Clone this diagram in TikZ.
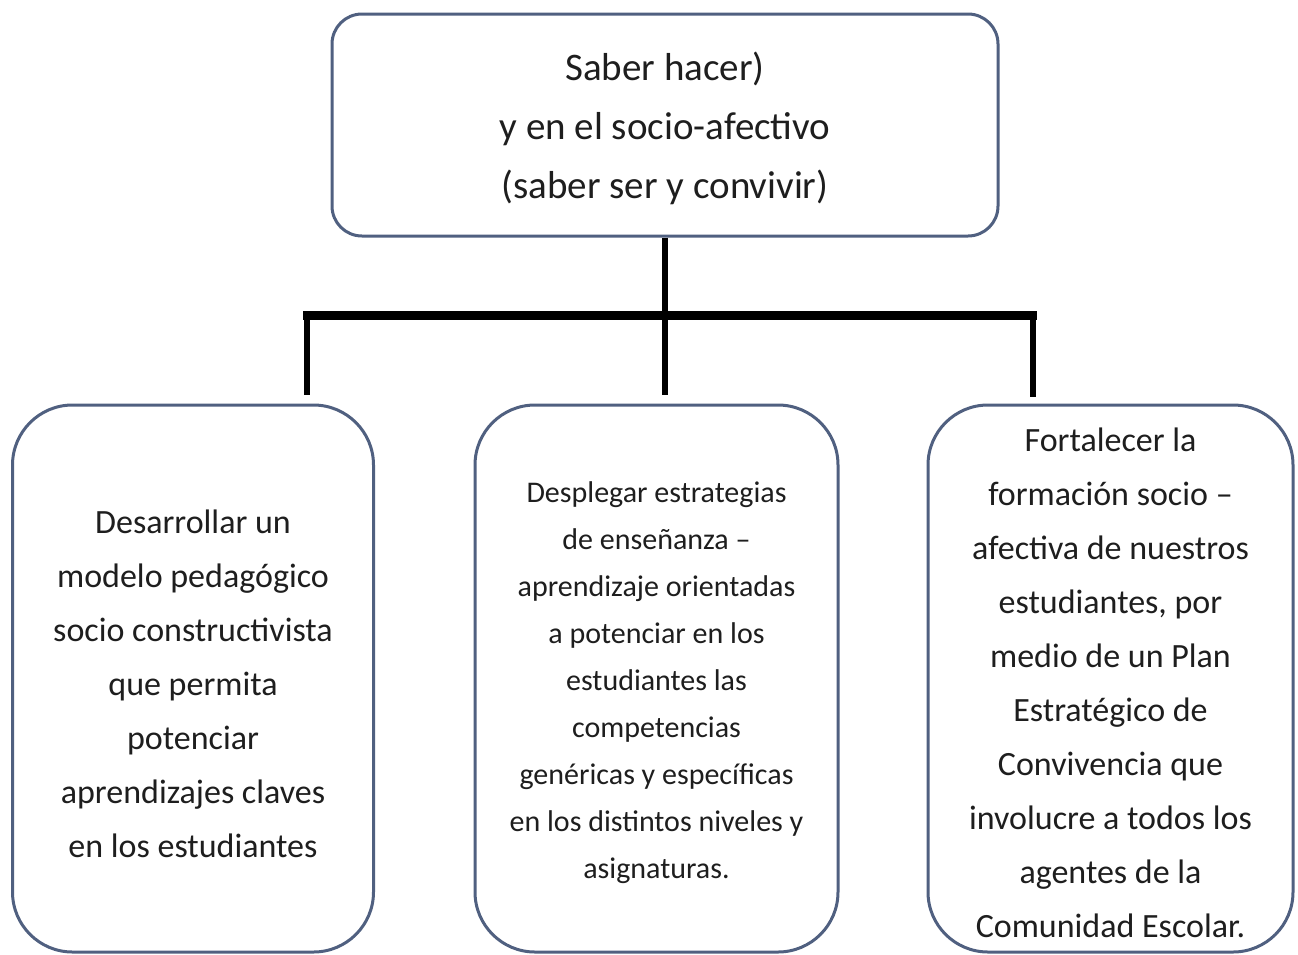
\documentclass[tikz,border=0pt]{standalone}
\usepackage{fontspec}
\setmainfont{Carlito}
\definecolor{boxline}{RGB}{80,96,128}
\definecolor{txt}{RGB}{30,30,30}
\begin{document}
\begin{tikzpicture}[x=1pt,y={(0pt,-1pt)},
  box/.style={draw=boxline, line width=3pt, fill=white, inner sep=0pt},
  topbox/.style={box, rounded corners=30pt, minimum width=666pt, minimum height=222pt},
  lowbox/.style={box, rounded corners=60pt, minimum width=361pt, minimum height=547pt},
  label/.style={align=center, text=txt, inner sep=0pt},
  bar/.style={line width=9pt, black},
  stem/.style={line width=6.5pt, black}]
\useasboundingbox (0,0) rectangle (1298,954);
\node[topbox] (top) at (665,125) {};
\node[lowbox] (left) at (193,678.5) {};
\node[lowbox, minimum width=363pt] (mid) at (656.5,678.5) {};
\node[lowbox, minimum width=365pt] (right) at (1110.5,678.5) {};
\node[label, font=\fontsize{39}{59}\selectfont] (toptxt) at ([yshift=-3pt]top.center)
  {Saber hacer)\\y en el socio-afectivo\\(saber ser y convivir)};
\node[label, font=\fontsize{34}{54}\selectfont] (lefttxt) at ([yshift=-5pt]left.center)
  {Desarrollar un\\modelo pedagógico\\socio constructivista\\que permita\\potenciar\\aprendizajes claves\\en los estudiantes};
\node[label, font=\fontsize{30}{47}\selectfont] (midtxt) at ([yshift=-4pt]mid.center)
  {Desplegar estrategias\\de enseñanza –\\aprendizaje orientadas\\a potenciar en los\\estudiantes las\\competencias\\genéricas y específicas\\en los distintos niveles y\\asignaturas.};
\node[label, font=\fontsize{34}{54}\selectfont] (righttxt) at ([yshift=-4.5pt]right.center)
  {Fortalecer la\\formación socio –\\afectiva de nuestros\\estudiantes, por\\medio de un Plan\\Estratégico de\\Convivencia que\\involucre a todos los\\agentes de la\\Comunidad Escolar.};
\coordinate (bl) at (303,315);
\coordinate (br) at (1037,315);
\coordinate (al) at (307,315);
\coordinate (ale) at (307,395);
\coordinate (ar) at (1033,315);
\coordinate (are) at (1033,397);
\coordinate (me) at (665,395);
\draw[bar] (bl) -- (br);
\draw[stem] (top.south) -- (me);
\draw[stem] (al) -- (ale);
\draw[stem] (ar) -- (are);
\end{tikzpicture}
\end{document}
